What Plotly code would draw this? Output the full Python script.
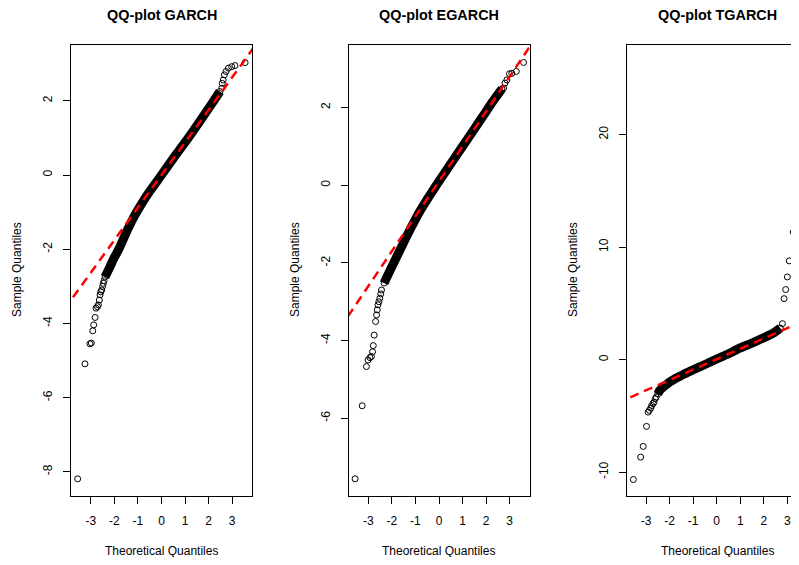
import plotly.graph_objects as go

# page body has an 8px margin, so the figure is drawn 8px in from the window edge
OFF = 8
WIN_W, WIN_H = 799, 565
W, H = WIN_W - 2 * OFF, WIN_H - 2 * OFF

# ---------------- data ----------------
titles = ["QQ-plot GARCH", "QQ-plot EGARCH", "QQ-plot TGARCH"]

# GARCH
g_lo_t = [-3.56, -3.25, -3.04, -2.98, -2.92, -2.88, -2.82, -2.78, -2.72, -2.68, -2.64, -2.61, -2.58, -2.54, -2.50, -2.47, -2.44]
g_lo_s = [-8.19, -5.09, -4.55, -4.53, -4.20, -4.04, -3.84, -3.59, -3.55, -3.50, -3.37, -3.23, -3.15, -3.10, -3.00, -2.92, -2.85]
g_body_t = [-2.40, -2.20, -2.00, -1.80, -1.60, -1.40, -1.20, -1.00, -0.80, -0.50, 0.00, 0.50, 1.07, 1.63, 2.20, 2.48]
g_body_s = [-2.75, -2.49, -2.22, -1.98, -1.70, -1.42, -1.16, -0.94, -0.73, -0.44, 0.00, 0.45, 0.94, 1.45, 1.98, 2.25]
g_hi_t = [2.56, 2.58, 2.62, 2.67, 2.74, 2.84, 2.98, 3.12, 3.55]
g_hi_s = [2.34, 2.47, 2.56, 2.70, 2.79, 2.88, 2.92, 2.95, 3.03]
g_line = (0.00, 0.877)  # intercept, slope

# EGARCH
e_lo_t = [-3.56, -3.26, -3.08, -3.01, -2.93, -2.87, -2.82, -2.79, -2.75, -2.69, -2.65, -2.62, -2.59, -2.55, -2.51, -2.47, -2.44]
e_lo_s = [-7.56, -5.68, -4.67, -4.50, -4.44, -4.41, -4.29, -4.13, -3.86, -3.51, -3.34, -3.21, -3.08, -3.00, -2.91, -2.80, -2.70]
e_body_t = [-2.33, -2.20, -2.00, -1.80, -1.60, -1.40, -1.20, -1.00, -0.80, -0.60, -0.40, 0.00, 0.50, 1.00, 1.50, 1.89, 2.30, 2.67]
e_body_s = [-2.52, -2.35, -2.10, -1.85, -1.60, -1.35, -1.11, -0.88, -0.66, -0.46, -0.27, 0.10, 0.55, 1.00, 1.45, 1.80, 2.17, 2.48]
e_hi_t = [2.74, 2.80, 2.88, 2.99, 3.09, 3.28, 3.59]
e_hi_s = [2.50, 2.63, 2.71, 2.87, 2.88, 2.93, 3.16]
e_line = (0.10, 0.900)

# TGARCH
t_lo_t = [-3.54, -3.23, -3.12, -2.98, -2.91, -2.86, -2.80, -2.76, -2.70, -2.66, -2.61, -2.57]
t_lo_s = [-10.65, -8.66, -7.71, -5.93, -4.66, -4.50, -4.30, -4.07, -3.90, -3.77, -3.47, -3.33]
t_body_t = [-2.50, -2.45, -2.40, -2.30, -2.20, -2.10, -2.00, -1.80, -1.60, -1.40, -1.20, -1.00, -0.50, 0.00, 0.50, 0.93, 1.50, 2.06, 2.40, 2.70]
t_body_s = [-3.05, -2.84, -2.69, -2.48, -2.31, -2.15, -1.99, -1.74, -1.52, -1.30, -1.10, -0.90, -0.43, 0.06, 0.52, 0.98, 1.48, 2.01, 2.35, 2.80]
t_hi_t = [2.79, 2.86, 2.93, 3.00, 3.08, 3.25, 3.56]
t_hi_s = [3.20, 5.42, 6.23, 7.35, 8.78, 11.33, 26.48]
t_line = (0.04, 0.922)

x_ticks = [-3, -2, -1, 0, 1, 2, 3]
y_ticks = [[-8, -6, -4, -2, 0, 2], [-6, -4, -2, 0, 2], [-10, 0, 10, 20]]

# ---------------- layout geometry (window pixels) ----------------
panels_px = [(71, 252), (348.5, 529.5), (627, 799)]
title_cx = [161.5, 439, 717]
ylab_x = [17, 295, 573]
x_ranges = [[-3.843, 3.843], [-3.84, 3.84], [-3.809, 3.495]]
y_ranges = [[-8.639, 3.504], [-7.99, 3.61], [-12.07, 27.96]]
top_px, bot_px = 45, 495.5


def px_x(px):
    return (px - OFF) / W


def px_y(py):
    return 1 - (py - OFF) / H


FONT = "Liberation Sans, Arial, Helvetica, sans-serif"

panels = [
    (g_lo_t, g_lo_s, g_body_t, g_body_s, g_hi_t, g_hi_s, g_line),
    (e_lo_t, e_lo_s, e_body_t, e_body_s, e_hi_t, e_hi_s, e_line),
    (t_lo_t, t_lo_s, t_body_t, t_body_s, t_hi_t, t_hi_s, t_line),
]

fig = go.Figure()
marker = dict(symbol="circle-open", size=6, color="black", line=dict(width=1, color="black"))

for i, (lo_t, lo_s, b_t, b_s, hi_t, hi_s, (a, b)) in enumerate(panels):
    xa = "x" if i == 0 else f"x{i+1}"
    ya = "y" if i == 0 else f"y{i+1}"
    fig.add_trace(go.Scatter(x=b_t, y=b_s, mode="lines+markers", xaxis=xa, yaxis=ya,
                             line=dict(color="black", width=9, shape="spline", smoothing=0.6),
                             marker=marker, showlegend=False, hoverinfo="skip"))
    fig.add_trace(go.Scatter(x=lo_t + hi_t, y=lo_s + hi_s, mode="markers", xaxis=xa, yaxis=ya,
                             marker=marker, showlegend=False, cliponaxis=True))
    xr = [-6, 6]
    fig.add_trace(go.Scatter(x=xr, y=[a + b * v for v in xr], mode="lines", xaxis=xa, yaxis=ya,
                             line=dict(color="#ff0000", width=2.5, dash="9px,6px"),
                             showlegend=False, hoverinfo="skip"))

y_dom = [px_y(bot_px), px_y(top_px)]
layout = dict(width=W, height=H, margin=dict(l=0, r=0, t=0, b=0),
              paper_bgcolor="white", plot_bgcolor="white",
              font=dict(family=FONT, size=12, color="black"), showlegend=False)

annotations = []
for i in range(3):
    sfx = "" if i == 0 else str(i + 1)
    x0, x1 = panels_px[i]
    layout["xaxis" + sfx] = dict(
        domain=[px_x(x0), min(px_x(x1), 1.0)],
        range=[x_ranges[i][0], x_ranges[i][0] + (x_ranges[i][1] - x_ranges[i][0]) * (min(x1, OFF + W) - x0) / (x1 - x0)],
        anchor="y" + sfx,
        tickmode="array", tickvals=x_ticks, ticktext=[str(v) for v in x_ticks],
        ticks="outside", ticklen=7, tickwidth=1, tickcolor="black",
        showline=True, linecolor="black", linewidth=1, mirror=True,
        showgrid=False, zeroline=False, ticklabelstandoff=7,
        tickfont=dict(family=FONT, size=12, color="black"), fixedrange=True)
    layout["yaxis" + sfx] = dict(
        domain=y_dom, range=y_ranges[i], anchor="x" + sfx,
        tickmode="array", tickvals=y_ticks[i], ticktext=[str(v) for v in y_ticks[i]],
        ticks="outside", ticklen=7, tickwidth=1, tickcolor="black", tickangle=-90,
        showline=True, linecolor="black", linewidth=1, mirror=(i < 2),
        showgrid=False, zeroline=False, ticklabelstandoff=6,
        tickfont=dict(family=FONT, size=12, color="black"), fixedrange=True)
    annotations.append(dict(text="<b>" + titles[i] + "</b>", x=px_x(title_cx[i]), y=px_y(15),
                            xref="paper", yref="paper", xanchor="center", yanchor="middle",
                            showarrow=False, font=dict(family=FONT, size=14.4, color="black")))
    annotations.append(dict(text="Theoretical Quantiles", x=px_x(title_cx[i]), y=px_y(551),
                            xref="paper", yref="paper", xanchor="center", yanchor="middle",
                            showarrow=False, font=dict(family=FONT, size=12, color="black")))
    annotations.append(dict(text="Sample Quantiles", x=px_x(ylab_x[i]), y=px_y(270),
                            xref="paper", yref="paper", xanchor="center", yanchor="middle",
                            textangle=-90, showarrow=False,
                            font=dict(family=FONT, size=12, color="black")))

layout["annotations"] = annotations
fig.update_layout(**layout)
fig.write_html("out.html")
